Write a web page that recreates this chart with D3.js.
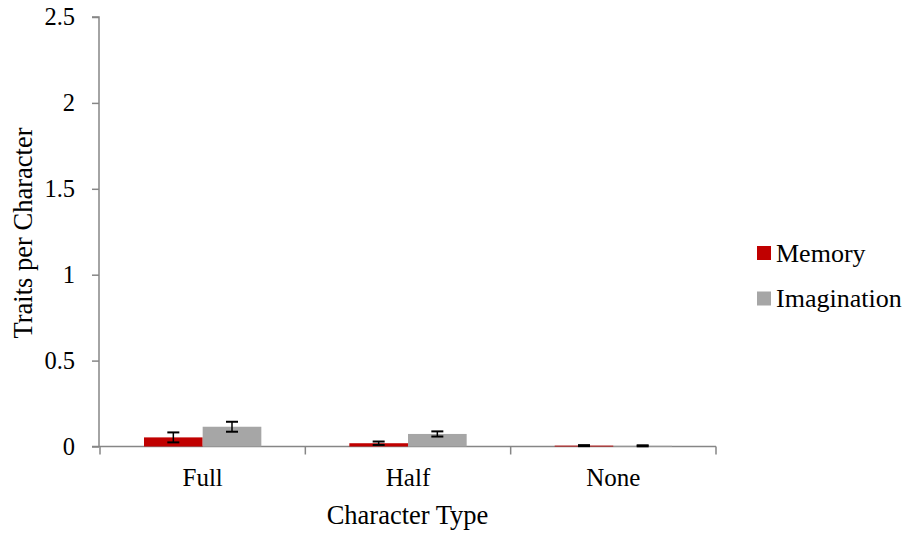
<!DOCTYPE html>
<html>
<head>
<meta charset="utf-8">
<script src="https://cdn.jsdelivr.net/npm/d3@7"></script>
<style>
  body { margin: 0; background: #fff; }
</style>
</head>
<body>
<script>
var width = 908;
var height = 533;
var margin = {top: 17, left: 99, right: 193, bottom: 86};
var font = "'Liberation Serif', 'Times New Roman', serif";

var categories = ["Full", "Half", "None"];
var seriesNames = ["Memory", "Imagination"];
var memory = [0.053, 0.019, 0.005];
var imagination = [0.115, 0.073, 0.004];
var memoryErr = [0.029, 0.01, 0.003];
var imaginationErr = [0.029, 0.015, 0.003];
var yTicks = [0, 0.5, 1, 1.5, 2, 2.5];
var colors = ["#C00000", "#A6A6A6"];

var data = [];
categories.forEach(function(c, i) {
  data.push({cat: c, series: "Memory", y: memory[i], err: memoryErr[i]});
  data.push({cat: c, series: "Imagination", y: imagination[i], err: imaginationErr[i]});
});

var svg = d3.select("body")
  .append("svg")
  .attr("width", width)
  .attr("height", height);

var xScale = d3.scaleBand()
  .domain(categories)
  .range([margin.left + 1, width - margin.right + 1])
  .paddingInner(0)
  .paddingOuter(0);

var xSub = d3.scaleBand()
  .domain(seriesNames)
  .range([0, xScale.bandwidth()])
  .paddingOuter(0.75)
  .paddingInner(0);

var yScale = d3.scaleLinear()
  .domain([0, 2.5])
  .range([height - margin.bottom - 0.5, margin.top]);

var color = d3.scaleOrdinal().domain(seriesNames).range(colors);

// y axis
var yAxis = svg.append("g")
  .attr("transform", `translate(${margin.left},0)`)
  .call(d3.axisLeft(yScale).tickValues(yTicks).tickFormat(d3.format("")).tickSize(7).tickPadding(17));
yAxis.selectAll("path, line").attr("stroke", "#868686").attr("stroke-width", 1.5);
yAxis.select("path").attr("d", `M-7,${yScale(2.5)}H0V${yScale(0)}`);
yAxis.selectAll("text")
  .style("font-size", "24.5px")
  .style("font-family", font)
  .attr("fill", "#000");

// x axis
var xAxis = svg.append("g")
  .attr("transform", `translate(0,${yScale(0)})`);
xAxis.append("line")
  .attr("x1", margin.left - 7).attr("x2", xScale.range()[1])
  .attr("stroke", "#868686").attr("stroke-width", 1.5);
xAxis.selectAll(".tk")
  .data(xScale.range().concat(categories.slice(1).map(function(c) { return xScale(c); })))
  .enter().append("line")
  .attr("x1", function(d) { return d; }).attr("x2", function(d) { return d; })
  .attr("y1", 0).attr("y2", 8)
  .attr("stroke", "#868686").attr("stroke-width", 1.5);
xAxis.selectAll(".lbl")
  .data(categories)
  .enter().append("text")
  .attr("x", function(d) { return xScale(d) + xScale.bandwidth() / 2; })
  .attr("y", 39.5)
  .attr("text-anchor", "middle")
  .style("font-size", "25px")
  .style("font-family", font)
  .text(function(d) { return d; });

// bars
svg.selectAll("rect.bar")
  .data(data)
  .enter()
  .append("rect")
  .attr("class", "bar")
  .attr("x", function(d) { return xScale(d.cat) + xSub(d.series); })
  .attr("y", function(d) { return yScale(d.y); })
  .attr("width", xSub.bandwidth())
  .attr("height", function(d) { return yScale(0) - yScale(d.y); })
  .attr("fill", function(d) { return color(d.series); });

// error bars
var eb = svg.selectAll("g.err")
  .data(data)
  .enter().append("g")
  .attr("transform", function(d) { return `translate(${xScale(d.cat) + xSub(d.series) + xSub.bandwidth() / 2},0)`; });
eb.append("line")
  .attr("y1", function(d) { return yScale(d.y + d.err); })
  .attr("y2", function(d) { return yScale(Math.max(0, d.y - d.err)); })
  .attr("stroke", "#000").attr("stroke-width", 1.5);
eb.append("line")
  .attr("x1", -6).attr("x2", 6)
  .attr("y1", function(d) { return yScale(d.y + d.err); })
  .attr("y2", function(d) { return yScale(d.y + d.err); })
  .attr("stroke", "#000").attr("stroke-width", 2);
eb.append("line")
  .attr("x1", -6).attr("x2", 6)
  .attr("y1", function(d) { return yScale(Math.max(0, d.y - d.err)); })
  .attr("y2", function(d) { return yScale(Math.max(0, d.y - d.err)); })
  .attr("stroke", "#000").attr("stroke-width", 2);

// axis titles
svg.append("text")
  .attr("x", 407.5)
  .attr("y", 524)
  .attr("text-anchor", "middle")
  .style("font-size", "26.5px")
  .style("font-family", font)
  .text("Character Type");

svg.append("text")
  .attr("transform", "translate(32,233) rotate(-90)")
  .attr("text-anchor", "middle")
  .style("font-size", "26.5px")
  .style("font-family", font)
  .text("Traits per Character");

// legend
var legend = svg.selectAll("g.legend")
  .data(seriesNames)
  .enter().append("g")
  .attr("transform", function(d, i) { return `translate(757,${246 + i * 45.5})`; });
legend.append("rect")
  .attr("width", 14).attr("height", 14)
  .attr("fill", function(d) { return color(d); });
legend.append("text")
  .attr("x", 19).attr("y", 15.5)
  .style("font-size", "26px")
  .style("font-family", font)
  .text(function(d) { return d; });
</script>
</body>
</html>
